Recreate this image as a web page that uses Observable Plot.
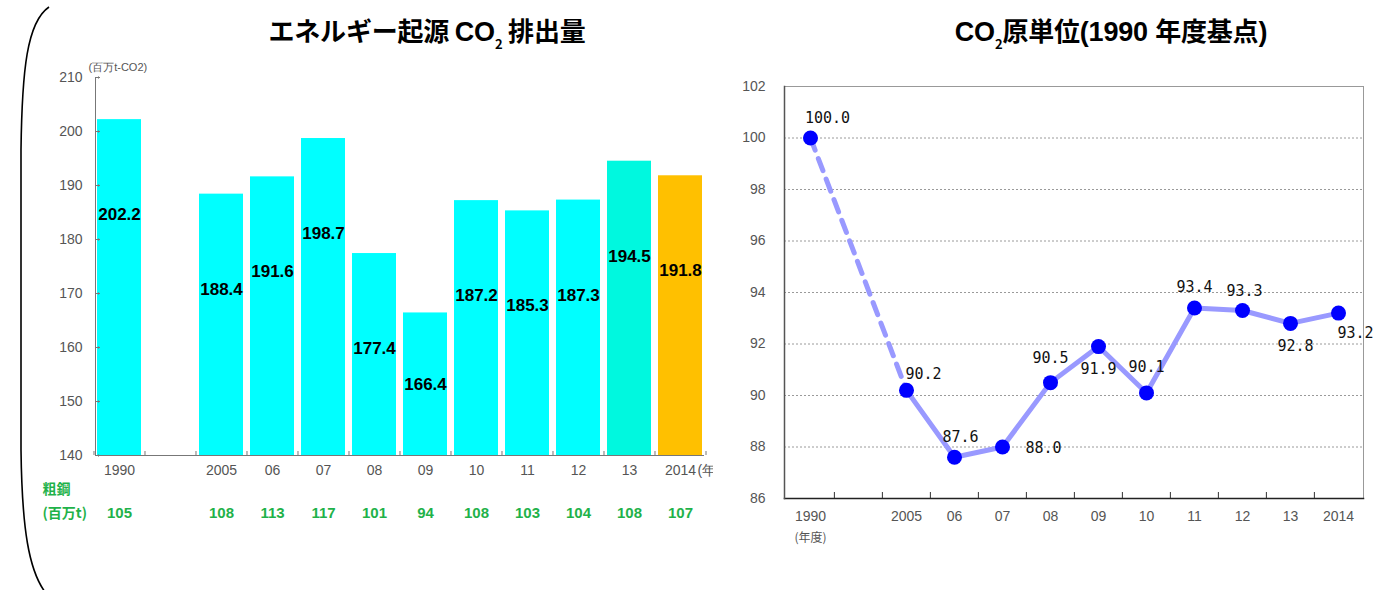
<!DOCTYPE html>
<html>
<head>
<meta charset="utf-8">
<script src="https://cdn.jsdelivr.net/npm/d3@7"></script>
<script src="https://cdn.jsdelivr.net/npm/@observablehq/plot@0.6"></script>
<style>
  html, body { margin: 0; background: #fff; }
  body { width: 1381px; height: 590px; overflow: hidden; position: relative; }
  .title {
    position: absolute; top: 13px; width: 460px; text-align: center;
    font-family: "Noto Sans CJK JP", sans-serif; font-weight: 700; font-size: 26px;
    color: #000; white-space: nowrap; letter-spacing: -0.2px; line-height: 34px;
  }
  .title .lat { font-family: "Liberation Sans Narrow", "Arial Narrow", "Liberation Sans", sans-serif; font-size: 27px; }
  .title sub { font-size: 13px; vertical-align: -8px; line-height: 0; }
  #left { position: absolute; left: 0; top: 0; }
  #right { position: absolute; left: 720px; top: 0; }
  #brace { position: absolute; left: 0; top: 0; }
</style>
</head>
<body>
<svg id="brace" width="80" height="590">
  <path d="M49,7 C27,22 22,70 21,150 L21,450 C22,530 29,570 45,592" fill="none" stroke="#000" stroke-width="1.6"/>
</svg>
<div class="title" style="left:197px">エネルギー起源 <span class="lat">CO</span><sub>2</sub> 排出量</div>
<div class="title" style="left:881px"><span class="lat">CO</span><sub>2</sub>原単位<span class="lat">(1990 </span>年度基点<span class="lat">)</span></div>
<div id="left"></div>
<div id="right"></div>
<script>
// Fiscal-year slots; the blank slot separates 1990 from the 2005–2014 run
const slots = ["1990", "", "2005", "06", "07", "08", "09", "10", "11", "12", "13", "2014"];
const years = ["1990", "2005", "06", "07", "08", "09", "10", "11", "12", "13", "2014"];

// Energy-derived CO2 emissions (million t-CO2)
const emissions = [202.2, 188.4, 191.6, 198.7, 177.4, 166.4, 187.2, 185.3, 187.3, 194.5, 191.8];
// Crude steel output (million t)
const crudeSteel = [105, 108, 113, 117, 101, 94, 108, 103, 104, 108, 107];
// CO2 intensity index (FY1990 = 100)
const intensity = [100.0, 90.2, 87.6, 88.0, 90.5, 91.9, 90.1, 93.4, 93.3, 92.8, 93.2];

const emissionTicks = [140, 150, 160, 170, 180, 190, 200, 210];
const intensityTicks = [86, 88, 90, 92, 94, 96, 98, 100, 102];

const rows = years.map((year, i) => ({
  year, value: emissions[i], steel: crudeSteel[i], intensity: intensity[i]
}));

const narrow = "'Liberation Sans Narrow', 'Arial Narrow', 'Liberation Sans', sans-serif";
const axisGray = "#555";
const steelGreen = "#1fb24a";

function barColor(year) {
  if (year === "2014") return "#ffc000";
  if (year === "13") return "#00f8df";
  return "#00ffff";
}

// ---------- Left: emissions bar chart ----------
const L = { width: 713, height: 540, left: 95, right: 10, top: 77, bottom: 85 };
const leftPlotH = L.height - L.top - L.bottom;
const leftPxPerUnit = leftPlotH / 70;
const leftStep = (L.width - L.left - L.right) / (slots.length - 0.147 + 2 * 0.033);

// value labels sit about 95px under the bar top, or mid-bar on short bars
const labelY = d => Math.max(d.value - 95 / leftPxPerUnit, (140 + d.value) / 2);

const leftChart = Plot.plot({
  width: L.width, height: L.height,
  marginLeft: L.left, marginRight: L.right, marginTop: L.top, marginBottom: L.bottom,
  style: { background: "transparent", overflow: "hidden", fontFamily: narrow },
  x: { type: "band", domain: slots, paddingInner: 0.147, paddingOuter: 0.033, axis: null },
  y: { domain: [140, 210], axis: null },
  color: { type: "identity" },
  marks: [
    Plot.barY(rows, { x: "year", y1: 140, y2: "value", fill: d => barColor(d.year) }),
    Plot.frame({ anchor: "left", stroke: "#777" }),
    Plot.frame({ anchor: "bottom", stroke: "#777" }),
    Plot.vector(emissionTicks, {
      y: d => d, frameAnchor: "left", rotate: 90, length: 4, anchor: "start",
      stroke: "#777", strokeWidth: 1
    }),
    Plot.ruleX(slots, {
      x: d => d, dx: -leftStep / 2, y1: 140, y2: 140 + 4 / leftPxPerUnit, stroke: "#777"
    }),
    Plot.ruleX(["2014"], {
      x: d => d, dx: leftStep / 2, y1: 140, y2: 140 + 4 / leftPxPerUnit, stroke: "#777"
    }),
    Plot.axisY({
      ticks: emissionTicks, tickSize: 0, tickPadding: 13, label: null,
      fontSize: 14, color: axisGray
    }),
    Plot.text(["(百万t-CO2)"], {
      text: d => d, frameAnchor: "top-left", textAnchor: "start", dx: -7, dy: -14,
      fontSize: 11, fill: axisGray
    }),
    Plot.text(rows, {
      x: "year", y: labelY, text: d => d.value.toFixed(1),
      fontSize: 17, fontWeight: "bold", fill: "#000",
      fontFamily: "'Liberation Sans', Arial, sans-serif"
    }),
    Plot.text(slots.filter(Boolean), {
      x: d => d, text: d => d, frameAnchor: "bottom", dy: 19, fontSize: 14, fill: axisGray
    }),
    Plot.text(["(年度)"], {
      x: () => "2014", text: d => d, frameAnchor: "bottom", dy: 19, dx: 17,
      textAnchor: "start", fontSize: 14, fill: axisGray
    }),
    Plot.text(["粗鋼"], {
      text: d => d, frameAnchor: "bottom-left", textAnchor: "start", dx: -53, dy: 38,
      fontSize: 14, fontWeight: "bold", fill: steelGreen, fontFamily: "'Noto Sans CJK JP', sans-serif"
    }),
    Plot.text(["(百万t)"], {
      text: d => d, frameAnchor: "bottom-left", textAnchor: "start", dx: -53, dy: 62,
      fontSize: 14, fontWeight: "bold", fill: steelGreen, fontFamily: "'Noto Sans CJK JP', sans-serif"
    }),
    Plot.text(rows, {
      x: "year", text: d => String(d.steel), frameAnchor: "bottom", dy: 62,
      fontSize: 15, fontWeight: "bold", fill: steelGreen
    })
  ]
});
document.getElementById("left").append(leftChart);

// ---------- Right: CO2 intensity line chart ----------
const R = { width: 661, height: 560, left: 64, right: 18, top: 86, bottom: 62 };
const rightStep = (R.width - R.left - R.right) / slots.length;
const rightPxPerUnit = (R.height - R.top - R.bottom) / 16;

// where each value label sits relative to its point (px)
const labelOffset = {
  "1990": [17, -20], "2005": [17, -16], "06": [6, -20], "07": [41, 1],
  "08": [0, -24], "09": [0, 23], "10": [0, -26], "11": [0, -21],
  "12": [2, -19], "13": [5, 23], "2014": [17, 20]
};

const rightChart = Plot.plot({
  width: R.width, height: R.height,
  marginLeft: R.left, marginRight: R.right, marginTop: R.top, marginBottom: R.bottom,
  style: { background: "transparent", overflow: "visible", fontFamily: narrow },
  x: { type: "point", domain: slots, padding: 0.5, axis: null },
  y: { domain: [86, 102], axis: null },
  marks: [
    Plot.ruleY(intensityTicks.filter(t => t > 86 && t < 102), {
      stroke: "#9a9a9a", strokeDasharray: "2,2", strokeWidth: 1
    }),
    Plot.frame({ stroke: "#999" }),
    Plot.frame({ anchor: "bottom", stroke: "#222", strokeWidth: 1.5 }),
    Plot.frame({ anchor: "left", stroke: "#555", strokeWidth: 1.5 }),
    Plot.ruleX(slots.slice(1), {
      x: d => d, dx: -rightStep / 2, y1: 86, y2: 86 + 6 / rightPxPerUnit, stroke: "#333"
    }),
    Plot.axisY({
      ticks: intensityTicks, tickSize: 0, tickPadding: 19, label: null,
      fontSize: 14, color: axisGray
    }),
    Plot.text(slots.filter(Boolean), {
      x: d => d, text: d => d, frameAnchor: "bottom", dy: 22, fontSize: 14, fill: axisGray
    }),
    Plot.text(["(年度)"], {
      x: () => "1990", text: d => d, frameAnchor: "bottom", dy: 43, fontSize: 12,
      fill: axisGray, fontFamily: "'Noto Sans CJK JP', sans-serif"
    }),
    Plot.line(rows.slice(0, 2), {
      x: "year", y: "intensity", stroke: "#9999ff", strokeWidth: 5, strokeDasharray: "13,9"
    }),
    Plot.line(rows.slice(1), {
      x: "year", y: "intensity", stroke: "#9999ff", strokeWidth: 5
    }),
    Plot.dot(rows, { x: "year", y: "intensity", r: 7.5, fill: "#0000ff", stroke: "none" }),
    ...rows.map(d => Plot.text([d], {
      x: "year", y: "intensity", text: r => r.intensity.toFixed(1),
      dx: labelOffset[d.year][0], dy: labelOffset[d.year][1],
      fontSize: 15, fill: "#111", fontFamily: "'DejaVu Sans Mono', monospace"
    }))
  ]
});
document.getElementById("right").append(rightChart);
</script>
</body>
</html>
